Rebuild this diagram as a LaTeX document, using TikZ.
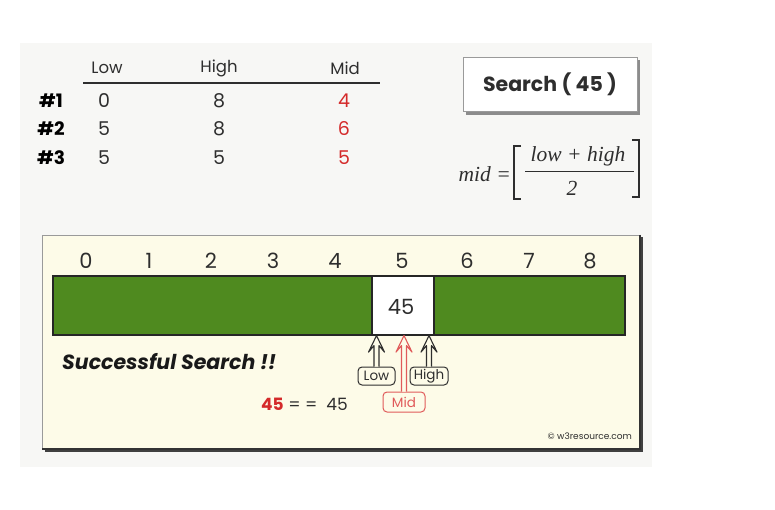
\documentclass[tikz,border=0pt]{standalone}
\usepackage{fontspec}
\setmainfont{Poppins}
\newfontfamily\serifit{Liberation Serif}
\usetikzlibrary{calc}
\definecolor{panelgray}{HTML}{F7F7F5}
\definecolor{cream}{HTML}{FDFBE8}
\definecolor{bargreen}{HTML}{4F8A1F}
\definecolor{numred}{HTML}{D42A2A}
\definecolor{midred}{HTML}{E05A5A}
\definecolor{txt}{HTML}{2E2E2E}
\definecolor{framegray}{HTML}{9A9A9A}
\newcommand\hollowarr[3]{%
  \draw[#1, line width=1.1pt, line join=round, fill=cream]
    ($(#2)+(-2.5,0)$) -- ($(#3)+(-2.5,10)$) -- ($(#3)+(-8,16.5)$) -- (#3)
    -- ($(#3)+(8,16.5)$) -- ($(#3)+(2.5,10)$) -- ($(#2)+(2.5,0)$);}
\tikzset{
  hdr/.style={text=txt, font=\fontsize{16.5}{18}\selectfont, inner sep=0pt},
  rowlab/.style={text=black, font=\fontsize{18.5}{20}\selectfont\bfseries, inner sep=0pt},
  num/.style={text=txt, font=\fontsize{19}{21}\selectfont, inner sep=0pt},
  rednum/.style={text=numred, font=\fontsize{19}{21}\selectfont, inner sep=0pt},
  idx/.style={text=txt, font=\fontsize{21}{23}\selectfont, inner sep=0pt},
  ptrlab/.style={draw=txt, rounded corners=4pt, fill=cream, line width=1pt, minimum height=18pt, inner sep=1pt, text=txt, font=\fontsize{13.5}{15}\selectfont},
  fml/.style={font=\serifit\itshape\fontsize{21.5}{23}\selectfont, inner sep=0pt, text=txt},
}
\begin{document}
\begin{tikzpicture}[x=1pt,y=-1pt]
\useasboundingbox (0,0) rectangle (775,510);
\fill[white] (0,0) rectangle (775,510);
\fill[panelgray] (20,43) rectangle (652,467);

% table
\node[hdr] (hlow) at (107,68) {Low};
\node[hdr] (hhigh) at (219,68) {High};
\node[hdr] (hmid) at (345,68) {Mid};
\draw[line width=2pt, txt] (83,83) -- (380,83);
\node[rowlab] (r1) at (51,101) {\#1};
\node[rowlab] (r2) at (51,129) {\#2};
\node[rowlab] (r3) at (51,158) {\#3};
\node[num] (l1) at (104,101) {0};
\node[num] (l2) at (104,129) {5};
\node[num] (l3) at (104,158) {5};
\node[num] (h1) at (219,101) {8};
\node[num] (h2) at (219,129) {8};
\node[num] (h3) at (219,158) {5};
\node[rednum] (m1) at (344,101) {4};
\node[rednum] (m2) at (344,129) {6};
\node[rednum] (m3) at (344,158) {5};

% search box
\fill[black!45] (466,60) rectangle (640,115);
\node[draw=framegray, fill=white, line width=1pt, minimum width=174pt, minimum height=54pt, inner sep=0pt,
  font=\fontsize{20.5}{22}\selectfont\bfseries, text=txt] (search) at (550,84.5) {Search ( 45 )};

% formula
\node[fml, anchor=east] (midtxt) at (511,174) {mid =};
\node[fml] (num) at (578,156) {low + high};
\node[fml] (den) at (572,188) {2};
\draw[txt, line width=1pt] (525,171.5) -- (634,171.5);
\draw[txt, line width=1.2pt] (521,146) -- (514,146) -- (514,199) -- (521,199);
\draw[txt, line width=1.2pt] (632,140) -- (639,140) -- (639,197) -- (632,197);

% lower panel
\fill[black!75] (44.5,237.5) rectangle (642.5,451.5);
\fill[cream] (42,235) rectangle (640,449);
\draw[framegray, line width=0.8pt] (42,449) -- (42,235) -- (640,235);
\draw[black!80, line width=1.2pt] (640,235) -- (640,449) -- (42,449);

% indices
\foreach \i/\x in {0/86,1/149,2/211,3/273,4/335,5/402,6/467,7/529,8/590}
  \node[idx] (idx\i) at (\x,261) {\i};

% array
\draw[black!85, fill=bargreen, line width=1.2pt] (53,276) rectangle (625,335);
\node[draw=black!85, fill=white, line width=1.2pt, minimum width=62pt, minimum height=59pt, inner sep=0pt] (box) at (403,305.5) {};
\node[idx] (val) at (401,307) {45};

% pointer labels
\node[ptrlab, minimum width=37pt] (lowlab) at (376.5,376) {Low};
\node[ptrlab, minimum width=38pt] (highlab) at (429,376) {High};
\node[ptrlab, minimum width=42pt, minimum height=20pt, draw=midred, text=midred] (midlab) at (404,402) {Mid};
\coordinate (lowtip) at (box.south -| lowlab.north);
\coordinate (hightip) at (box.south -| highlab.north);
\coordinate (midtip) at (box.south -| midlab.north);
\hollowarr{txt}{lowlab.north}{lowtip}
\hollowarr{txt}{highlab.north}{hightip}
\hollowarr{midred}{midlab.north}{midtip}

% messages
\node[anchor=west, inner sep=0pt, text=black!90, font=\fontsize{20.5}{22}\selectfont\bfseries\itshape] (succ) at (62,362) {Successful Search !!};
\node[anchor=west, inner sep=0pt, text=txt, font=\fontsize{17}{19}\selectfont] (cmp) at (261,404) {{\color{numred}\bfseries 45} = =\ \ 45};
\node[anchor=east, inner sep=0pt, text=txt, font=\fontsize{9}{10}\selectfont] (copy) at (632,436) {\textcopyright\ w3resource.com};
\end{tikzpicture}
\end{document}
